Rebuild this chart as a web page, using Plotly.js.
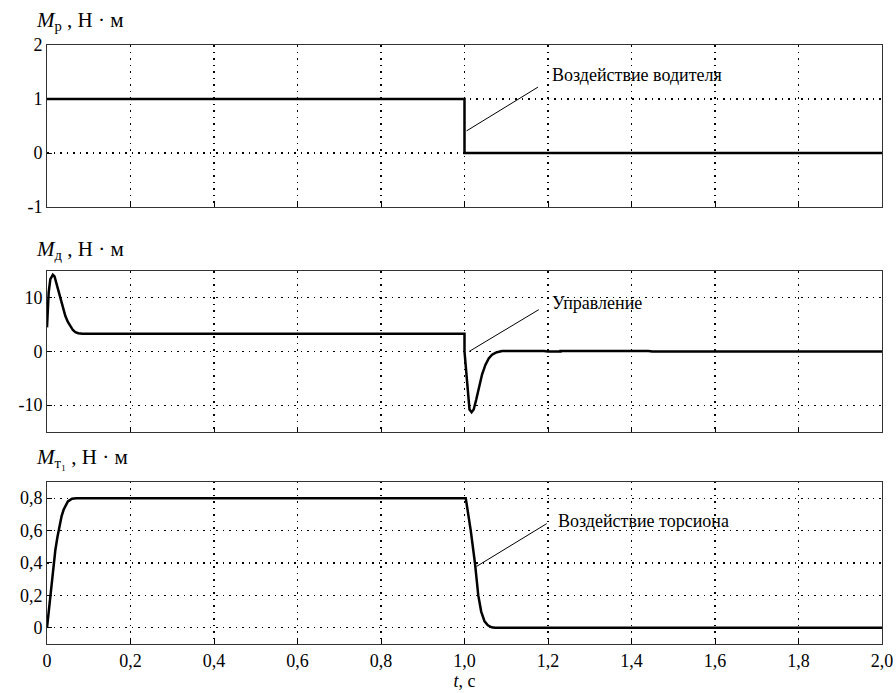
<!DOCTYPE html>
<html><head><meta charset="utf-8">
<script src="https://cdn.plot.ly/plotly-3.0.1.min.js"></script>
<style>body{margin:0;background:#fff}#c{width:896px;height:693px}</style>
</head><body><div id="c"></div>
<script>
// Top panel: driver torque
const tP = [0, 1.0, 1.0, 2.0];
const mP = [1, 1, 0, 0];
// Middle panel: control torque
const tD = [0, 0.004, 0.008, 0.014, 0.018, 0.022, 0.027, 0.032, 0.038, 0.044, 0.05, 0.056, 0.062, 0.068, 0.075, 0.085, 1.0,
            1.0, 1.004, 1.008, 1.012, 1.017, 1.022, 1.028, 1.035, 1.042, 1.05, 1.058, 1.066, 1.075, 1.085, 1.09, 1.19, 1.2, 1.23, 1.23, 1.44, 1.45, 2.0];
const mD = [4.5, 11, 13.5, 14.3, 14, 12.8, 11.3, 9.7, 8, 6.6, 5.5, 4.6, 4, 3.6, 3.4, 3.3, 3.3,
            0, -4, -8.5, -10.8, -11.3, -10.8, -9, -6.5, -4.3, -2.5, -1.3, -0.6, -0.2, 0, 0.1, 0.1, 0, 0, 0.1, 0.1, 0, 0];
// Bottom panel: torsion torque
const tT = [0, 0.005, 0.01, 0.015, 0.02, 0.025, 0.03, 0.035, 0.04, 0.05, 0.06, 0.07, 1.003, 1.008, 1.015, 1.025, 1.033, 1.04, 1.048, 1.056, 1.065, 1.073, 2.0];
const mT = [0, 0.13, 0.26, 0.38, 0.48, 0.56, 0.63, 0.69, 0.73, 0.78, 0.797, 0.8, 0.8, 0.72, 0.6, 0.4, 0.2, 0.1, 0.04, 0.015, 0.003, 0, 0];

const xTickVals = [0, 0.2, 0.4, 0.6, 0.8, 1.0, 1.2, 1.4, 1.6, 1.8, 2.0];
const xTickText = ['0', '0,2', '0,4', '0,6', '0,8', '1,0', '1,2', '1,4', '1,6', '1,8', '2,0'];
const yPTicks = [-1, 0, 1, 2];
const yPText = ['-1', '0', '1', '2'];
const yDTicks = [-10, 0, 10];
const yDText = ['-10', '0', '10'];
const yTTicks = [0, 0.2, 0.4, 0.6, 0.8];
const yTText = ['0', '0,2', '0,4', '0,6', '0,8'];

const F = 'Liberation Serif';
const lineStyle = {color: '#000', width: 2.5};
const traces = [
  {x: tP, y: mP, xaxis: 'x', yaxis: 'y3', mode: 'lines', line: lineStyle},
  {x: tD, y: mD, xaxis: 'x2', yaxis: 'y2', mode: 'lines', line: lineStyle},
  {x: tT, y: mT, xaxis: 'x3', yaxis: 'y', mode: 'lines', line: lineStyle}
];
const grid = {showgrid: true, gridcolor: '#000', gridwidth: 1.3, griddash: '1.5px,5px', zeroline: false,
  showline: true, mirror: true, linecolor: '#333', linewidth: 1, ticks: 'inside', ticklen: 5, tickcolor: '#000',
  tickfont: {family: F, size: 18, color: '#000'}};
const xBase = Object.assign({}, grid, {range: [0, 2], tickvals: xTickVals, ticktext: xTickText});
const layout = {
  width: 896, height: 693, paper_bgcolor: '#fff', plot_bgcolor: '#fff', showlegend: false,
  margin: {l: 47, r: 14, t: 45, b: 49},
  font: {family: F, size: 18, color: '#000'},
  xaxis3: Object.assign({}, xBase, {anchor: 'y', title: {text: '<i>t</i>, с', font: {family: F, size: 18}, standoff: 2}}),
  xaxis2: Object.assign({}, xBase, {anchor: 'y2', showticklabels: false}),
  xaxis: Object.assign({}, xBase, {anchor: 'y3', showticklabels: false}),
  yaxis: Object.assign({}, grid, {domain: [0, 0.2705], range: [-0.1, 0.9], tickvals: yTTicks, ticktext: yTText, anchor: 'x3'}),
  yaxis2: Object.assign({}, grid, {domain: [0.3539, 0.6227], range: [-15, 15], tickvals: yDTicks, ticktext: yDText, anchor: 'x2'}),
  yaxis3: Object.assign({}, grid, {domain: [0.7295, 1], range: [-1, 2], tickvals: yPTicks, ticktext: yPText, anchor: 'x'}),
  shapes: [
    {type: 'line', xref: 'x', yref: 'y3', x0: 1.005, y0: 0.41, x1: 1.176, y1: 1.22, line: {color: '#000', width: 1}},
    {type: 'line', xref: 'x2', yref: 'y2', x0: 1.011, y0: 0, x1: 1.178, y1: 7.8, line: {color: '#000', width: 1}},
    {type: 'line', xref: 'x3', yref: 'y', x0: 1.029, y0: 0.379, x1: 1.197, y1: 0.643, line: {color: '#000', width: 1}}
  ],
  annotations: [
    {xref: 'x', yref: 'y3', x: 1.205, y: 1.44, text: 'Воздействие водителя', showarrow: false, xanchor: 'left', yanchor: 'middle', font: {family: F, size: 18}},
    {xref: 'x2', yref: 'y2', x: 1.205, y: 9.1, text: 'Управление', showarrow: false, xanchor: 'left', yanchor: 'middle', font: {family: F, size: 18}},
    {xref: 'x3', yref: 'y', x: 1.219, y: 0.66, text: 'Воздействие торсиона', showarrow: false, xanchor: 'left', yanchor: 'middle', font: {family: F, size: 18}},
    {xref: 'paper', yref: 'paper', x: -0.015, y: 1.015, text: '<i>M</i><sub>р</sub> , Н · м', showarrow: false, xanchor: 'left', yanchor: 'bottom', font: {family: F, size: 21}},
    {xref: 'paper', yref: 'paper', x: -0.015, y: 0.633, text: '<i>M</i><sub>д</sub> , Н · м', showarrow: false, xanchor: 'left', yanchor: 'bottom', font: {family: F, size: 21}},
    {xref: 'paper', yref: 'paper', x: -0.015, y: 0.285, text: '<i>M</i><sub>т₁</sub> , Н · м', showarrow: false, xanchor: 'left', yanchor: 'bottom', font: {family: F, size: 21}}
  ]
};
Plotly.newPlot('c', traces, layout, {staticPlot: true});
</script></body></html>
